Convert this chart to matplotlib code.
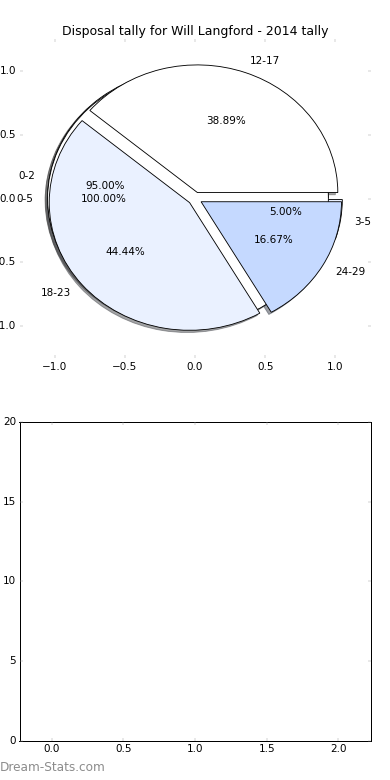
import matplotlib
matplotlib.use("Agg")
import matplotlib.pyplot as plt

plt.style.use('classic')

title = "Disposal tally for Will Langford - 2014 tally"

# pie layers (drawn in this order)
labels_b = ['0-2', '3-5']
values_b = [19, 1]
labels_a = ['0-5']
values_a = [20]
labels_c = ['12-17', '18-23', '24-29']
values_c = [7, 8, 3]

colors = ['white', '#EAF1FF', '#C5D9FF']
explode_amt = 0.05

pie_ticks = [-1.0, -0.5, 0.0, 0.5, 1.0]
bar_yticks = [0, 5, 10, 15, 20]
bar_xticks = [0.0, 0.5, 1.0, 1.5, 2.0]

DPI = 62.5
fig = plt.figure(figsize=(390 / DPI, 780 / DPI), dpi=DPI, facecolor='white')
fig.subplots_adjust(left=0.05, right=0.95, top=0.95, bottom=0.05, hspace=0.2)

ax1 = fig.add_subplot(2, 1, 1)
wp = dict(edgecolor='black', linewidth=1.0)
for labs, vals in [(labels_b, values_b), (labels_a, values_a), (labels_c, values_c)]:
    ax1.pie(vals, labels=labs, colors=colors[:len(vals)],
            explode=[explode_amt] * len(vals), autopct='%1.2f%%',
            shadow=True, startangle=0, wedgeprops=wp,
            textprops=dict(fontsize=12), frame=True)
ax1.set_aspect('auto')
ax1.set_frame_on(False)
ax1.set_xlim(-1.25, 1.25)
ax1.set_ylim(-1.25, 1.25)
ax1.set_xticks(pie_ticks)
ax1.set_yticks(pie_ticks)
ax1.tick_params(colors='#999999', labelcolor='black', labelsize=12)
ax1.set_title(title, fontsize=14.4)

ax2 = fig.add_subplot(2, 1, 2)
ax2.set_xlim(-0.225, 2.225)
ax2.set_ylim(0, 20)
ax2.set_xticks(bar_xticks)
ax2.set_yticks(bar_yticks)
ax2.tick_params(colors='#999999', labelcolor='black', labelsize=12)
for sp in ax2.spines.values():
    sp.set_linewidth(72 / DPI)
    sp.set_color('black')

fig.text(0.0, 0.008, 'Dream-Stats.com', color='#8c8c8c', fontsize=14,
         fontfamily='DejaVu Sans', ha='left', va='bottom')

fig.savefig('out.png', dpi=DPI, facecolor='white')
